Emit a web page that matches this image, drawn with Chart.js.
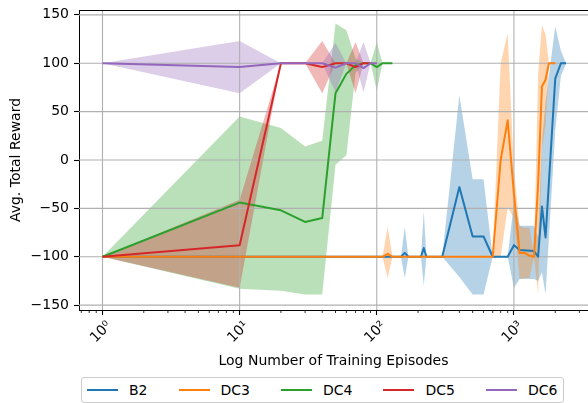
<!DOCTYPE html>
<html>
<head>
<meta charset="utf-8">
<script src="https://cdn.jsdelivr.net/npm/chart.js@4.4.1/dist/chart.umd.min.js"></script>
<style>
  html, body { margin: 0; padding: 0; background: #fff; }
  #wrap { position: relative; width: 588px; height: 403px; overflow: hidden; font-family: 'DejaVu Sans', sans-serif; }
  #box { position: absolute; left: 0; top: 0; width: 588px; height: 372px; }
  #legend { position: absolute; left: 81px; top: 377px; height: 26px; box-sizing: border-box; border: 1px solid #cccccc; border-radius: 3px;
            display: flex; align-items: center; padding: 0 6px 0 5px; font-size: 14px; color: #000; background: #fff; }
  .item { display: flex; align-items: center; margin-right: 31px; }
  .item:last-child { margin-right: 0; }
  .swatch { width: 31px; height: 2px; margin-right: 11px; }
</style>
</head>
<body>
<div id="wrap">
  <div id="box"><canvas id="rewardChart"></canvas></div>
  <div id="legend"></div>
</div>
<script>
// ── DATA ─────────────────────────────────────────────────────────────
const b2Episodes = [1, 150, 160, 170, 210, 220, 230, 300, 400, 500, 600, 700, 800, 900, 1000, 1100, 1400, 1500, 1600, 1700, 2000, 2200, 2400];
const b2Mean     = [-100, -100, -96, -100, -100, -91, -100, -100, -28, -79, -79, -100, -100, -100, -88, -93, -94, -100, -48, -80, 84, 100, 100];
const b2Upper    = [-100, -100, -69, -100, -100, -53, -100, -100, 67, -20, -20, -100, -100, -100, -44, -68, -68, -80, 20, 60, 138, 113, 100];
const b2Lower    = [-100, -100, -122, -100, -100, -130, -100, -100, -121, -139, -139, -100, -100, -100, -132, -123, -123, -125, -116, -139, 30, 87, 100];

const dc3Episodes = [1, 110, 120, 130, 700, 800, 900, 1000, 1100, 1200, 1300, 1400, 1500, 1600, 1700, 1800, 2000];
const dc3Mean     = [-100, -100, -97, -100, -100, 0, 41, -35, -96, -96, -99, -100, -25, 76, 83, 100, 100];
const dc3Upper    = [-100, -100, -69, -100, -100, 100, 131, -10, -68, -70, -70, -100, 89, 139, 130, 100, 100];
const dc3Lower    = [-100, -100, -122, -100, -100, -100, -49, -60, -123, -122, -122, -100, -139, 13, 36, 100, 100];

const dc4Episodes = [1, 10, 20, 30, 40, 50, 60, 70, 80, 90, 100, 110, 120, 130];
const dc4Mean     = [-100, -44, -52, -64, -60, 69, 89, 98, 100, 100, 96, 100, 100, 100];
const dc4Upper    = [-100, 45, 33, 14, 20, 141, 134, 105, 100, 100, 122, 100, 100, 100];
const dc4Lower    = [-100, -133, -135, -139, -139, -5, 5, 90, 100, 100, 72, 100, 100, 100];

const dc5Episodes = [1, 10, 20, 30, 40, 50, 60, 70, 80, 90];
const dc5Mean     = [-100, -88, 100, 100, 96, 100, 100, 96, 100, 100];
const dc5Upper    = [-100, -41, 100, 100, 123, 100, 100, 122, 100, 100];
const dc5Lower    = [-100, -132, 100, 100, 69, 100, 100, 69, 100, 100];

const dc6Episodes = [1, 10, 20, 30, 40, 50, 60, 70, 80, 90, 100];
const dc6Mean     = [100, 96, 100, 100, 100, 95.5, 100, 100, 95, 100, 100];
const dc6Upper    = [100, 123, 100, 100, 100, 121, 100, 100, 122, 100, 100];
const dc6Lower    = [100, 69, 100, 100, 100, 70, 100, 100, 70, 100, 100];

const xTickMajor  = [1, 10, 100, 1000];
const xTickLabels = ['10\u2070', '10\u00b9', '10\u00b2', '10\u00b3'];
const xTickMinor  = [0.7, 0.8, 0.9, 2, 3, 4, 5, 6, 7, 8, 9, 20, 30, 40, 50, 60, 70, 80, 90,
                     200, 300, 400, 500, 600, 700, 800, 900, 2000, 3000];
const yTicks      = [-150, -100, -50, 0, 50, 100, 150];

// ── STYLE ────────────────────────────────────────────────────────────
const SERIES = [
  { label: 'B2',  color: '#1f77b4', band: 'rgba(31,119,180,0.33)', xs: b2Episodes,  mean: b2Mean,  upper: b2Upper,  lower: b2Lower },
  { label: 'DC3', color: '#ff7f0e', band: 'rgba(255,127,14,0.33)', xs: dc3Episodes, mean: dc3Mean, upper: dc3Upper, lower: dc3Lower },
  { label: 'DC4', color: '#2ca02c', band: 'rgba(44,160,44,0.33)',  xs: dc4Episodes, mean: dc4Mean, upper: dc4Upper, lower: dc4Lower },
  { label: 'DC5', color: '#d62728', band: 'rgba(214,39,40,0.33)',  xs: dc5Episodes, mean: dc5Mean, upper: dc5Upper, lower: dc5Lower },
  { label: 'DC6', color: '#9467bd', band: 'rgba(148,103,189,0.33)', xs: dc6Episodes, mean: dc6Mean, upper: dc6Upper, lower: dc6Lower },
];

const pts = (xs, ys) => xs.map((x, i) => ({ x, y: ys[i] }));

// band (upper filled to lower) then mean line per series; later series on top
const datasets = [];
SERIES.forEach(s => {
  datasets.push({ label: s.label + ' upper', data: pts(s.xs, s.upper), borderWidth: 0, borderColor: 'rgba(0,0,0,0)', backgroundColor: s.band, fill: '+1', pointRadius: 0 });
  datasets.push({ label: s.label + ' lower', data: pts(s.xs, s.lower), borderWidth: 0, borderColor: 'rgba(0,0,0,0)', fill: false, pointRadius: 0 });
  datasets.push({ label: s.label, data: pts(s.xs, s.mean), borderColor: s.color, borderWidth: 2, fill: false, pointRadius: 0, borderJoinStyle: 'round' });
});
datasets.forEach((d, i) => { d.order = -i; d.tension = 0; });

// grid above the bands, below the lines (matplotlib zorder)
const gridAndFrame = {
  id: 'gridAndFrame',
  beforeDatasetsDraw(chart) {
    const { ctx, chartArea: a, scales: { x, y } } = chart;
    ctx.save();
    ctx.strokeStyle = '#b0b0b0';
    ctx.lineWidth = 1.1;
    ctx.beginPath();
    yTicks.forEach(v => { const py = y.getPixelForValue(v); ctx.moveTo(a.left, py); ctx.lineTo(a.right, py); });
    xTickMajor.forEach(v => { const px = x.getPixelForValue(v); ctx.moveTo(px, a.top); ctx.lineTo(px, a.bottom); });
    ctx.stroke();
    ctx.restore();
  },
  afterDraw(chart) {
    const { ctx, chartArea: a, scales: { x } } = chart;
    ctx.save();
    ctx.strokeStyle = '#000';
    ctx.lineWidth = 1;
    ctx.beginPath();
    ctx.moveTo(a.left, a.top + 0.5); ctx.lineTo(a.right, a.top + 0.5);
    ctx.stroke();
    ctx.lineWidth = 0.8;
    ctx.beginPath();
    xTickMinor.forEach(v => { const px = x.getPixelForValue(v); ctx.moveTo(px, a.bottom); ctx.lineTo(px, a.bottom + 3); });
    ctx.stroke();
    ctx.restore();
  }
};

Chart.defaults.font.family = "'DejaVu Sans', sans-serif";
Chart.defaults.font.size = 14;
Chart.defaults.color = '#000';

new Chart(document.getElementById('rewardChart'), {
  type: 'line',
  data: { datasets },
  options: {
    responsive: true, maintainAspectRatio: false, animation: false,
    layout: { padding: { top: 10, right: 0, left: 0, bottom: 0 } },
    plugins: { legend: { display: false }, tooltip: { enabled: false }, filler: { drawTime: 'beforeDatasetsDraw' } },
    scales: {
      x: {
        type: 'logarithmic', min: 0.674, max: 3467,
        afterBuildTicks: s => { s.ticks = xTickMajor.concat(xTickMinor).sort((a, b) => a - b).map(v => ({ value: v })); },
        afterFit: s => { s.height = 62; s.paddingLeft = 0; s.paddingRight = 0; },
        grid: { drawOnChartArea: false, drawTicks: true, tickLength: 5, tickWidth: 1.1,
                tickColor: c => xTickMajor.includes(c.tick && c.tick.value) ? '#000' : 'rgba(0,0,0,0)' },
        border: { display: true, color: '#000', width: 1 },
        ticks: { autoSkip: false, minRotation: 45, maxRotation: 45, padding: 3, labelOffset: 7, color: '#000',
                 callback: v => { const i = xTickMajor.indexOf(v); return i >= 0 ? xTickLabels[i] : ''; } },
        title: { display: true, text: 'Log Number of Training Episodes', color: '#000', font: { size: 14 }, padding: { top: 4, bottom: 2 } }
      },
      y: {
        min: -155, max: 155,
        afterBuildTicks: s => { s.ticks = yTicks.map(v => ({ value: v })); },
        afterFit: s => { s.width = 79; s.paddingTop = 0; s.paddingBottom = 0; },
        grid: { drawOnChartArea: false, drawTicks: true, tickLength: 5, tickWidth: 1.1, tickColor: '#000' },
        border: { display: true, color: '#000', width: 1 },
        ticks: { padding: 5, color: '#000', callback: v => v < 0 ? '\u2212' + Math.abs(v) : String(v) },
        title: { display: true, text: 'Avg. Total Reward', color: '#000', font: { size: 14 }, padding: { top: 7.5, bottom: 0 } }
      }
    }
  },
  plugins: [gridAndFrame]
});

// ── LEGEND ───────────────────────────────────────────────────────────
document.getElementById('legend').innerHTML = SERIES.map(s =>
  `<div class="item"><div class="swatch" style="background:${s.color}"></div>${s.label}</div>`).join('');
</script>
</body>
</html>
